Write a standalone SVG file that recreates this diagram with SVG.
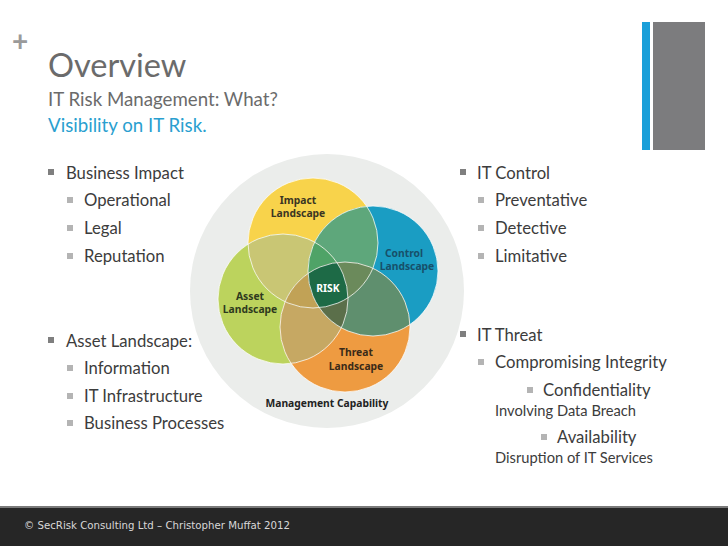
<svg xmlns="http://www.w3.org/2000/svg" width="728" height="546" viewBox="0 0 728 546">
<style>
.t{font-family:Lato,"Open Sans","Liberation Sans",sans-serif;fill:#3c3c3c;font-size:16.7px}
.s{font-size:14.7px}
.b1{fill:#7f7f7f}
.b2{fill:#b4b4b4}
.lbl{font-family:"Noto Sans","Open Sans","Liberation Sans",sans-serif;font-weight:bold;font-size:10.3px;text-anchor:middle}
.ol{fill:none;stroke:#ffffff;stroke-opacity:0.75;stroke-width:1}
</style>
<defs>
<clipPath id="cY"><circle cx="313" cy="243" r="65"/></clipPath>
<clipPath id="cT"><circle cx="373" cy="271" r="65"/></clipPath>
<clipPath id="cG"><circle cx="283" cy="299" r="65"/></clipPath>
<clipPath id="cO"><circle cx="345" cy="327" r="65"/></clipPath>
</defs>
<rect width="728" height="546" fill="#ffffff"/>
<g id="header">
<text x="12" y="51" font-family="Lato,'Liberation Sans',sans-serif" font-size="28" font-weight="bold" fill="#9a9a9a">+</text>
<text x="48" y="77" font-family="Lato,'Liberation Sans',sans-serif" font-size="32.5" fill="#6b6b6b">Overview</text>
<text x="48" y="106" font-family="Lato,'Liberation Sans',sans-serif" font-size="18.7" fill="#6b6b6b">IT Risk Management: What?</text>
<text x="48" y="132" font-family="Lato,'Liberation Sans',sans-serif" font-size="18.7" fill="#2a9fd0">Visibility on IT Risk.</text>
</g>
<g id="bars">
<rect x="642" y="22" width="8" height="128" fill="#1a9fd9"/>
<rect x="653" y="22" width="52" height="128" fill="#7c7c7e"/>
</g>
<g id="venn">
<circle cx="327" cy="291" r="137" fill="#ebedeb"/>
<circle cx="313" cy="243" r="65" fill="#f8d34b"/>
<circle cx="373" cy="271" r="65" fill="#1a9dc3"/>
<circle cx="283" cy="299" r="65" fill="#bcd35d"/>
<circle cx="345" cy="327" r="65" fill="#ee9b41"/>
<g clip-path="url(#cY)"><circle cx="373" cy="271" r="65" fill="#5ea77b"/></g>
<g clip-path="url(#cY)"><circle cx="283" cy="299" r="65" fill="#c9c674"/></g>
<g clip-path="url(#cG)"><circle cx="345" cy="327" r="65" fill="#c6a863"/></g>
<g clip-path="url(#cT)"><circle cx="345" cy="327" r="65" fill="#5f8f6e"/></g>
<g clip-path="url(#cY)"><circle cx="345" cy="327" r="65" fill="#7a9a5a"/></g>
<g clip-path="url(#cT)"><circle cx="283" cy="299" r="65" fill="#6a9a60"/></g>
<g clip-path="url(#cY)"><g clip-path="url(#cT)"><circle cx="283" cy="299" r="65" fill="#4fa367"/></g></g>
<g clip-path="url(#cY)"><g clip-path="url(#cG)"><circle cx="345" cy="327" r="65" fill="#c1a256"/></g></g>
<g clip-path="url(#cY)"><g clip-path="url(#cT)"><circle cx="345" cy="327" r="65" fill="#6b8a5b"/></g></g>
<g clip-path="url(#cT)"><g clip-path="url(#cG)"><circle cx="345" cy="327" r="65" fill="#5b6f4a"/></g></g>
<g clip-path="url(#cY)"><g clip-path="url(#cT)"><g clip-path="url(#cG)"><circle cx="345" cy="327" r="65" fill="#1d6a46"/></g></g></g>
<circle class="ol" cx="313" cy="243" r="65"/>
<circle class="ol" cx="373" cy="271" r="65"/>
<circle class="ol" cx="283" cy="299" r="65"/>
<circle class="ol" cx="345" cy="327" r="65"/>
<text class="lbl" x="298" y="204" fill="#3b3523">Impact</text>
<text class="lbl" x="298" y="217" fill="#3b3523">Landscape</text>
<text class="lbl" x="404" y="257" fill="#17506a">Control</text>
<text class="lbl" x="407" y="270" fill="#17506a">Landscape</text>
<text class="lbl" x="250" y="300" fill="#2e3a1e">Asset</text>
<text class="lbl" x="250" y="313" fill="#2e3a1e">Landscape</text>
<text class="lbl" x="328" y="292" fill="#ffffff" font-size="12.5px">RISK</text>
<text class="lbl" x="356" y="356" fill="#3a2a18">Threat</text>
<text class="lbl" x="356" y="370" fill="#3a2a18">Landscape</text>
<text class="lbl" x="327" y="407" fill="#222222">Management Capability</text>
</g>
<g id="left-list">
<rect class="b1" x="48" y="169" width="6" height="6"/>
<text class="t" x="66" y="179">Business Impact</text>
<rect class="b2" x="67" y="197" width="6" height="6"/>
<text class="t" x="84" y="206">Operational</text>
<rect class="b2" x="67" y="225" width="6" height="6"/>
<text class="t" x="84" y="234">Legal</text>
<rect class="b2" x="67" y="253" width="6" height="6"/>
<text class="t" x="84" y="262">Reputation</text>
<rect class="b1" x="48" y="337" width="6" height="6"/>
<text class="t" x="66" y="347">Asset Landscape:</text>
<rect class="b2" x="67" y="365" width="6" height="6"/>
<text class="t" x="84" y="374">Information</text>
<rect class="b2" x="67" y="393" width="6" height="6"/>
<text class="t" x="84" y="402">IT Infrastructure</text>
<rect class="b2" x="67" y="420" width="6" height="6"/>
<text class="t" x="84" y="429">Business Processes</text>
</g>
<g id="right-list">
<rect class="b1" x="460" y="169" width="6" height="6"/>
<text class="t" x="477" y="179">IT Control</text>
<rect class="b2" x="478" y="197" width="6" height="6"/>
<text class="t" x="495" y="206">Preventative</text>
<rect class="b2" x="478" y="225" width="6" height="6"/>
<text class="t" x="495" y="234">Detective</text>
<rect class="b2" x="478" y="253" width="6" height="6"/>
<text class="t" x="495" y="262">Limitative</text>
<rect class="b1" x="460" y="331" width="6" height="6"/>
<text class="t" x="477" y="341">IT Threat</text>
<rect class="b2" x="478" y="359" width="6" height="6"/>
<text class="t" x="495" y="368">Compromising Integrity</text>
<rect class="b2" x="527" y="387" width="6" height="6"/>
<text class="t" x="543" y="396">Confidentiality</text>
<text class="t s" x="495" y="416">Involving Data Breach</text>
<rect class="b2" x="541" y="434" width="6" height="6"/>
<text class="t" x="557" y="443">Availability</text>
<text class="t s" x="495" y="463">Disruption of IT Services</text>
</g>
<g id="footer">
<rect x="0" y="506" width="728" height="2" fill="#7a7a7a"/>
<rect x="0" y="508" width="728" height="38" fill="#262626"/>
<text x="24" y="529" font-family="'DejaVu Sans',Verdana,sans-serif" font-size="10" fill="#d8d8d8" textLength="266" lengthAdjust="spacingAndGlyphs">© SecRisk Consulting Ltd – Christopher Muffat 2012</text>
</g>
</svg>
